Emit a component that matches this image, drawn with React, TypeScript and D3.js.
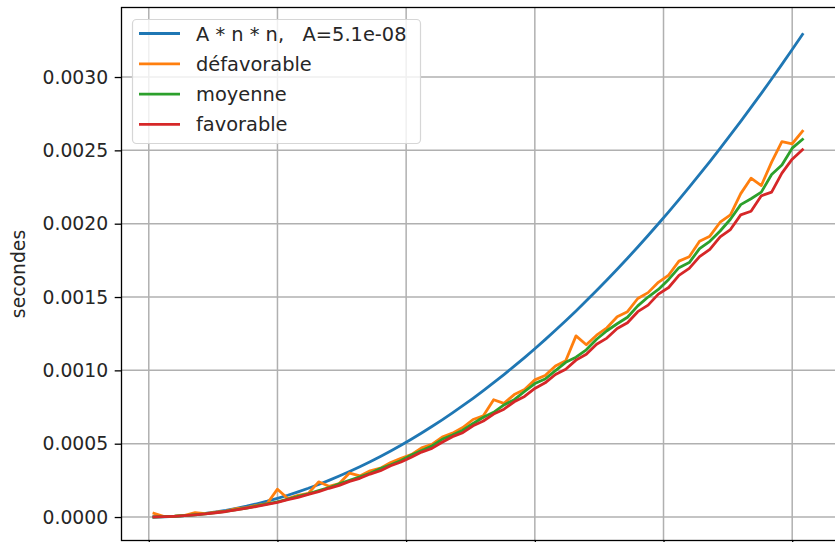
import React, { useEffect, useRef } from 'react';
import * as d3 from 'd3';

// tailles n (pas de 4)
const tailles = [
  2, 6, 10, 14, 18, 22, 26, 30, 34, 38, 42, 46, 50, 54, 58, 62,
  66, 70, 74, 78, 82, 86, 90, 94, 98, 102, 106, 110, 114, 118, 122, 126,
  130, 134, 138, 142, 146, 150, 154, 158, 162, 166, 170, 174, 178, 182, 186, 190,
  194, 198, 202, 206, 210, 214, 218, 222, 226, 230, 234, 238, 242, 246, 250, 254,
];

// temps en microsecondes
const modeleUs = [
  0.2, 1.8, 5.1, 10.0, 16.5, 24.7, 34.5, 45.9, 59.0, 73.6, 90.0, 107.9, 127.5, 148.7, 171.6, 196.0,
  222.2, 249.9, 279.3, 310.3, 342.9, 377.2, 413.1, 450.6, 489.8, 530.6, 573.0, 617.1, 662.8, 710.1, 759.1, 809.7,
  861.9, 915.8, 971.2, 1028.4, 1087.1, 1147.5, 1209.5, 1273.2, 1338.4, 1405.4, 1473.9, 1544.1, 1615.9, 1689.3, 1764.4, 1841.1,
  1919.4, 1999.4, 2081.0, 2164.2, 2249.1, 2335.6, 2423.7, 2513.5, 2604.9, 2697.9, 2792.6, 2888.8, 2986.8, 3086.3, 3187.5, 3290.3,
];

const defavorableUs = [
  25, 3.2, 5.9, 11.5, 30, 22.8, 33.5, 40.5, 58, 63.5, 80, 92, 190, 126, 148, 161,
  240, 210, 228, 300, 280, 315, 333, 372, 400, 426, 472, 495, 545, 572, 610, 665,
  690, 800, 775, 835, 870, 935, 965, 1030, 1065, 1235, 1175, 1240, 1290, 1365, 1400, 1490,
  1530, 1600, 1650, 1745, 1775, 1880, 1915, 2010, 2060, 2205, 2310, 2260, 2420, 2560, 2545, 2630,
];

const moyenneUs = [
  0.5, 2.4, 5.3, 9.9, 15.5, 22.0, 30.6, 39.2, 50.9, 61.4, 75.6, 89.8, 104.0, 122.4, 140.2, 157.5,
  181.0, 200.0, 225.8, 250.5, 274.0, 298.5, 331.0, 356.0, 385.0, 423.0, 453.5, 484.0, 530.0, 558.5, 592.0, 638.0,
  680.0, 714.0, 764.0, 800.0, 856.0, 910.0, 941.0, 998.0, 1055.0, 1090.0, 1140.0, 1212.0, 1270.0, 1318.0, 1362.0, 1440.0,
  1500.0, 1552.0, 1620.0, 1700.0, 1735.0, 1830.0, 1880.0, 1950.0, 2030.0, 2130.0, 2170.0, 2215.0, 2335.0, 2400.0, 2515.0, 2575.0,
];

const favorableUs = [
  0.4, 2.2, 5.1, 9.4, 14.8, 21.2, 29.3, 37.8, 48.8, 60.0, 72.0, 87.0, 100.5, 118.0, 134.0, 155.0,
  173.0, 196.0, 216.0, 243.0, 264.0, 293.0, 316.0, 350.0, 375.0, 408.0, 443.0, 468.0, 510.0, 548.0, 575.0, 622.0,
  655.0, 702.0, 735.0, 786.0, 822.0, 877.0, 915.0, 972.0, 1008.0, 1070.0, 1110.0, 1178.0, 1220.0, 1285.0, 1325.0, 1400.0,
  1445.0, 1520.0, 1565.0, 1648.0, 1695.0, 1775.0, 1825.0, 1910.0, 1960.0, 2060.0, 2085.0, 2190.0, 2215.0, 2345.0, 2440.0, 2505.0,
];

const xTicks = [0, 50, 100, 150, 200, 250];
const yTicks = [0, 0.0005, 0.001, 0.0015, 0.002, 0.0025, 0.003];

const series = [
  { label: 'A * n * n,   A=5.1e-08', values: modeleUs, color: '#1f77b4' },
  { label: 'défavorable', values: defavorableUs, color: '#ff7f0e' },
  { label: 'moyenne', values: moyenneUs, color: '#2ca02c' },
  { label: 'favorable', values: favorableUs, color: '#d62728' },
];

const W = 835;
const H = 542;
const FONT = '"DejaVu Sans", sans-serif';

export default function App() {
  const svgRef = useRef<SVGSVGElement>(null);

  useEffect(() => {
    if (!svgRef.current) return;
    const svg = d3.select(svgRef.current);
    svg.selectAll('*').remove();

    const left = 121.5, right = 837.5, top = 7.5, bottom = 540.5;

    const x = d3.scaleLinear().domain([-10.6, 267.6]).range([left, right]);
    const y = d3.scaleLinear().domain([-0.00016, 0.003474]).range([bottom, top]);

    svg.append('rect').attr('width', W).attr('height', H).attr('fill', '#fff');

    svg.append('defs').append('clipPath').attr('id', 'plot-clip')
      .append('rect')
      .attr('x', left).attr('y', top)
      .attr('width', right - left).attr('height', bottom - top);

    // grille
    const grid = svg.append('g');
    grid.selectAll('line.vx')
      .data(xTicks)
      .enter()
      .append('line')
      .attr('x1', d => x(d)).attr('x2', d => x(d))
      .attr('y1', top).attr('y2', bottom)
      .attr('stroke', '#b0b0b0').attr('stroke-width', 1.5);
    grid.selectAll('line.hy')
      .data(yTicks)
      .enter()
      .append('line')
      .attr('x1', left).attr('x2', right)
      .attr('y1', d => y(d)).attr('y2', d => y(d))
      .attr('stroke', '#b0b0b0').attr('stroke-width', 1.5);

    // courbes
    const line = d3.line<number>()
      .x((_, i) => x(tailles[i]))
      .y(d => y(d / 1e6));

    const curves = svg.append('g').attr('clip-path', 'url(#plot-clip)');
    series.forEach(s => {
      curves.append('path')
        .datum(s.values)
        .attr('d', line)
        .attr('fill', 'none')
        .attr('stroke', s.color)
        .attr('stroke-width', 2.8)
        .attr('stroke-linejoin', 'round')
        .attr('stroke-linecap', 'square');
    });

    // axes
    svg.append('g')
      .attr('transform', `translate(${left},0)`)
      .call(d3.axisLeft(y).tickValues(yTicks).tickFormat(d => d3.format('.4f')(d as number)).tickSize(6.8).tickPadding(6.5))
      .call(g => g.select('.domain').remove())
      .call(g => g.selectAll('.tick line').attr('stroke', '#000').attr('stroke-width', 1.3))
      .call(g => g.selectAll('.tick text')
        .attr('fill', '#262626')
        .attr('font-size', '18.8px')
        .attr('font-family', FONT));

    svg.append('g')
      .attr('transform', `translate(0,${bottom})`)
      .call(d3.axisBottom(x).tickValues(xTicks).tickFormat(() => '').tickSize(6.8))
      .call(g => g.select('.domain').remove())
      .call(g => g.selectAll('.tick line').attr('stroke', '#000').attr('stroke-width', 1.3));

    svg.append('rect')
      .attr('x', left).attr('y', top)
      .attr('width', right - left).attr('height', bottom - top)
      .attr('fill', 'none').attr('stroke', '#000').attr('stroke-width', 1.3);

    svg.append('text')
      .attr('transform', `translate(25,${(top + bottom) / 2}) rotate(-90)`)
      .attr('text-anchor', 'middle')
      .attr('font-family', FONT)
      .attr('font-size', '18.8px')
      .attr('fill', '#262626')
      .text('secondes');

    // légende
    const legend = svg.append('g');
    legend.append('rect')
      .attr('x', 132.5).attr('y', 19.5)
      .attr('width', 288).attr('height', 124)
      .attr('rx', 4)
      .attr('fill', 'rgba(255,255,255,0.8)')
      .attr('stroke', '#d6d6d6').attr('stroke-width', 1.2);

    series.forEach((s, i) => {
      const cy = 33.5 + i * 30.3;
      legend.append('line')
        .attr('x1', 139).attr('x2', 180)
        .attr('y1', cy).attr('y2', cy)
        .attr('stroke', s.color).attr('stroke-width', 2.8);
      legend.append('text')
        .attr('x', 196).attr('y', cy + 7)
        .attr('font-family', FONT)
        .attr('font-size', '19.4px')
        .attr('fill', '#262626')
        .attr('xml:space', 'preserve')
        .style('white-space', 'pre')
        .text(s.label);
    });
  }, []);

  return (
    <svg
      ref={svgRef}
      width={W}
      height={H}
      style={{ position: 'absolute', left: 0, top: 0 }}
    />
  );
}
